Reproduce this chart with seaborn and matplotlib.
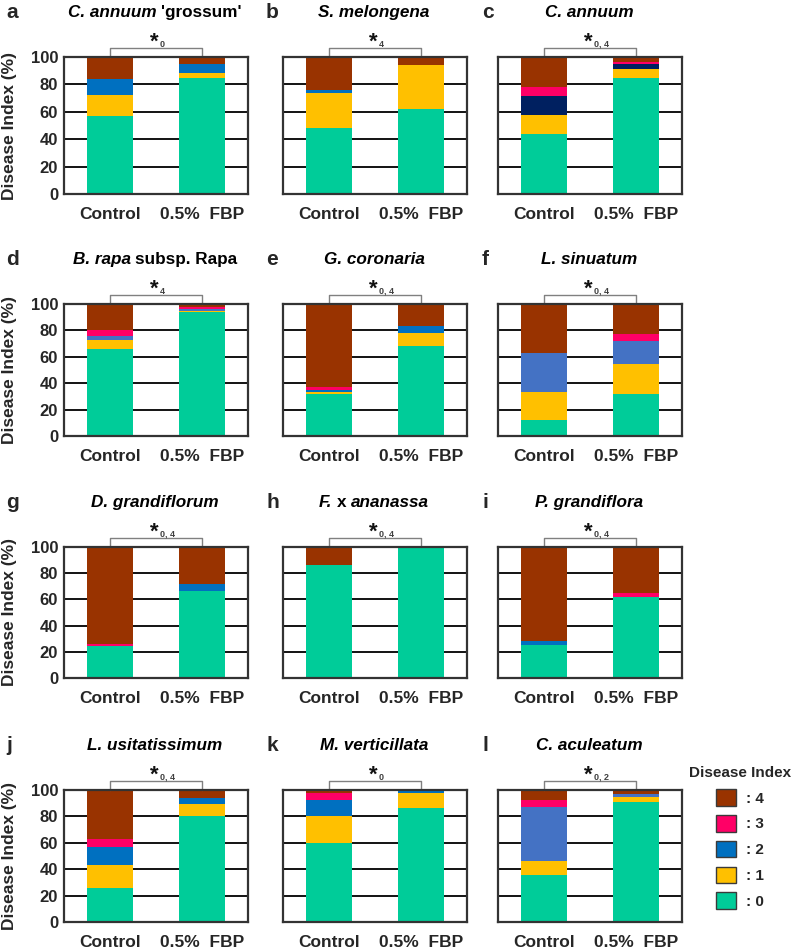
import numpy as np
import pandas as pd
import seaborn as sns
import matplotlib
matplotlib.use("Agg")
import matplotlib.pyplot as plt
import matplotlib.transforms as mtrans
from matplotlib.offsetbox import TextArea, HPacker, AnnotationBbox
from matplotlib.patches import Patch

# ---------------- data ----------------
groups = ["Control", "0.5%  FBP"]
panel_letters = ["a", "b", "c", "d", "e", "f", "g", "h", "i", "j", "k", "l"]
# title pieces: (text, italic?)
titles = [
    [("C. annuum", True), ("'grossum'", False)],
    [("S. melongena", True)],
    [("C. annuum", True)],
    [("B. rapa", True), ("subsp. Rapa", False)],
    [("G. coronaria", True)],
    [("L. sinuatum", True)],
    [("D. grandiflorum", True)],
    [("F.", True), ("x", False), ("ananassa", True)],
    [("P. grandiflora", True)],
    [("L. usitatissimum", True)],
    [("M. verticillata", True)],
    [("C. aculeatum", True)],
]
sig_labels = ["0", "4", "0, 4", "4", "0, 4", "0, 4", "0, 4", "0, 4", "0, 4", "0, 4", "0", "0, 2"]

# percentage per disease index level, (Control, 0.5% FBP) for each panel a..l
level0 = [(57, 85), (48, 62), (44, 84.7), (66, 93.7), (31.6, 68), (12, 31.6),
          (24.2, 66.4), (86.5, 100), (25.2, 62.1), (25.9, 80.5), (59.7, 86.6), (35.9, 91.1)]
level1 = [(15, 3), (25.5, 32.5), (13.7, 6.9), (7, 0.8), (1.8, 10), (21, 22.6),
          (0, 0), (0, 0), (0, 0), (17.2, 8.6), (20.6, 11.1), (10.4, 3.6)]
level2 = [(12, 7), (2.5, 0), (13.6, 3.4), (3, 1.5), (1.5, 5.3), (29.8, 17.4),
          (0, 5.6), (0, 0), (3, 0), (14, 5.1), (12.4, 2.3), (40.8, 2.3)]
level3 = [(0, 0), (0, 0), (6.9, 1.7), (4.5, 1.5), (2.5, 0), (0, 5.6),
          (1.5, 0), (0, 0), (0, 2.5), (5.8, 0), (5, 0), (5.3, 0)]
level4 = [(16, 5), (24, 5.5), (21.8, 3.3), (19.5, 2.5), (62.6, 16.7), (37.2, 22.8),
          (74.3, 28), (13.5, 0), (71.8, 35.4), (37.1, 5.8), (2.3, 0), (7.6, 3)]
levels = [level0, level1, level2, level3, level4]
legend_labels = [": 4", ": 3", ": 2", ": 1", ": 0"]

# ---------------- style ----------------
GREEN, YELLOW, PINK, BROWN = "#00CC99", "#FFC000", "#FF0066", "#993300"
BLUE, LBLUE, NAVY = "#0070C0", "#4472C4", "#002060"
panel_blue = [BLUE, BLUE, NAVY, LBLUE, BLUE, LBLUE, BLUE, BLUE, BLUE, BLUE, BLUE, LBLUE]

sns.set_theme(style="white")
plt.rcParams['font.family'] = ['Liberation Sans', 'DejaVu Sans']
plt.rcParams['font.weight'] = 'bold'

W, H = 794, 951
fig = plt.figure(figsize=(W / 100, H / 100), dpi=100)

col_left = [64, 283, 498]
col_w = 184
row_top = [57, 304, 547, 790]
row_bot = [194, 436, 678, 922]
letter_x = [6, 266, 482]

for idx in range(12):
    r, c = divmod(idx, 3)
    L, T, B = col_left[c], row_top[r], row_bot[r]
    h = B - T
    ax = fig.add_axes([L / W, 1 - B / H, col_w / W, h / H])
    cols = [GREEN, YELLOW, panel_blue[idx], PINK, BROWN]
    ctrl_cum = np.cumsum([lv[idx][0] for lv in levels])
    fbp_cum = np.cumsum([lv[idx][1] for lv in levels])
    for k in range(4, -1, -1):
        d = pd.DataFrame({"group": groups, "cum": [ctrl_cum[k], fbp_cum[k]]})
        sns.barplot(data=d, x="group", y="cum", order=groups, color=cols[k],
                    saturation=1, width=0.5, errorbar=None, linewidth=0, ax=ax)
    ax.set_xlim(-0.5, 1.5)
    ax.set_ylim(0, 100)
    ax.set_yticks([0, 20, 40, 60, 80, 100])
    ax.yaxis.grid(True, color="black", lw=1.3)
    ax.xaxis.grid(False)
    ax.set_axisbelow(True)
    for s in ax.spines.values():
        s.set_visible(True)
        s.set_color("#333333")
        s.set_linewidth(1.6)
    ax.set_xlabel("")
    ax.tick_params(axis="x", length=0, labelsize=12.5, pad=9.5)
    ax.tick_params(axis="y", length=0, labelsize=12, pad=4.3)
    for t in ax.get_xticklabels() + ax.get_yticklabels():
        t.set_fontweight("bold")
    if c == 0:
        ax.set_ylabel("Disease Index (%)", fontsize=12.5, fontweight="bold")
        ax.yaxis.set_label_coords((17 - L) / col_w, 0.5)
    else:
        ax.set_ylabel("")
        ax.tick_params(axis="y", labelleft=False)

    # significance bracket
    trans = mtrans.blended_transform_factory(ax.transData, ax.transAxes)
    top = 1 + 9 / h
    ax.plot([0, 0, 1, 1], [1, top, top, 1], transform=trans, color="#808080",
            lw=1, clip_on=False)
    ax.annotate("*", xy=(0.5, 1), xycoords=trans, xytext=(-2, 9.5),
                textcoords="offset pixels", ha="center", va="baseline",
                fontsize=16, fontweight="bold", color="#111111")
    ax.annotate(sig_labels[idx], xy=(0.5, 1), xycoords=trans, xytext=(4, 10.5),
                textcoords="offset pixels", ha="left", va="baseline",
                fontsize=6.5, fontweight="bold", color="#404040")

    # title with mixed styles
    parts = [TextArea(txt, textprops=dict(fontsize=12.3, fontweight="bold",
                                          fontstyle="italic" if it else "normal",
                                          color="black"))
             for txt, it in titles[idx]]
    pack = HPacker(children=parts, align="baseline", pad=0, sep=3.4)
    ab = AnnotationBbox(pack, xy=(0.5, 1), xycoords=ax.transAxes,
                        xybox=(-1, 37.0), boxcoords="offset pixels",
                        box_alignment=(0.5, 0), frameon=False, pad=0,
                        annotation_clip=False)
    ax.add_artist(ab)

    fig.text(letter_x[c] / W, 1 - (T - 39) / H, panel_letters[idx], fontsize=15,
             fontweight="bold", ha="left", va="baseline")

handles = [Patch(facecolor=col, edgecolor="#3a3a3a", lw=1)
           for col in [BROWN, PINK, BLUE, YELLOW, GREEN]]
fig.legend(handles, legend_labels, loc="upper center",
           bbox_to_anchor=(740 / W, 1 - 766 / H), frameon=False,
           title="Disease Index",
           title_fontproperties={"weight": "bold", "size": 11},
           prop={"weight": "bold", "size": 11},
           handlelength=1.36, handleheight=1.3, labelspacing=0.6,
           handletextpad=0.65, borderpad=0, borderaxespad=0)

fig.savefig("out.png", dpi=100)
